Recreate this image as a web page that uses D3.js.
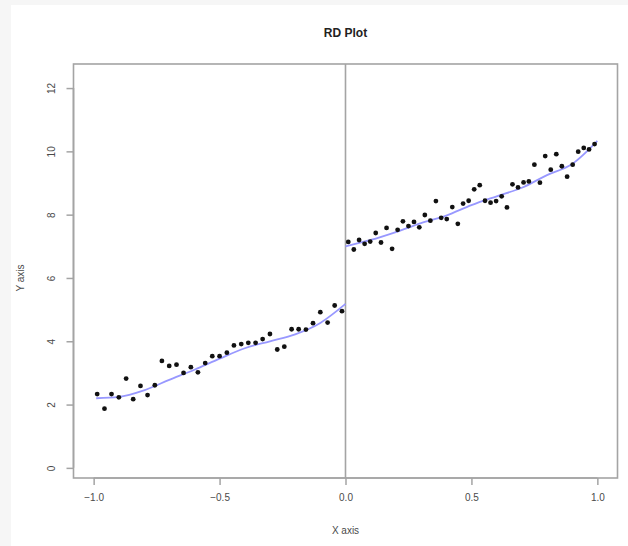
<!DOCTYPE html>
<html>
<head>
<meta charset="utf-8">
<script src="https://cdn.jsdelivr.net/npm/d3@7"></script>
<style>
  html, body { margin: 0; padding: 0; background: #f6f6f6; }
  svg { display: block; }
  text { font-family: "Liberation Sans", Arial, sans-serif; }
</style>
</head>
<body>
<div id="chart"></div>
<script>
/** --- DATA --- */

// binned means, left of the cutoff
const leftX = [-0.986, -0.957, -0.929, -0.900, -0.871, -0.843, -0.814, -0.786, -0.757, -0.729,
  -0.700, -0.671, -0.643, -0.614, -0.586, -0.557, -0.529, -0.500, -0.471, -0.443,
  -0.414, -0.386, -0.357, -0.329, -0.300, -0.271, -0.243, -0.214, -0.186, -0.157,
  -0.129, -0.100, -0.071, -0.043, -0.014];
const leftY = [2.33, 1.87, 2.33, 2.23, 2.82, 2.17, 2.59, 2.30, 2.61, 3.38,
  3.22, 3.26, 3.00, 3.18, 3.02, 3.31, 3.53, 3.53, 3.64, 3.87,
  3.91, 3.95, 3.95, 4.07, 4.23, 3.74, 3.83, 4.38, 4.38, 4.37,
  4.57, 4.92, 4.59, 5.13, 4.95];

// binned means, right of the cutoff
const rightX = [0.011, 0.033, 0.054, 0.076, 0.098, 0.120, 0.141, 0.163, 0.185, 0.207,
  0.228, 0.250, 0.272, 0.293, 0.315, 0.337, 0.359, 0.380, 0.402, 0.424,
  0.446, 0.467, 0.489, 0.511, 0.533, 0.554, 0.576, 0.598, 0.620, 0.641,
  0.663, 0.685, 0.707, 0.728, 0.750, 0.772, 0.793, 0.815, 0.837, 0.859,
  0.880, 0.902, 0.924, 0.946, 0.967, 0.989];
const rightY = [7.14, 6.90, 7.20, 7.08, 7.15, 7.42, 7.12, 7.58, 6.92, 7.52,
  7.79, 7.64, 7.77, 7.60, 7.99, 7.81, 8.43, 7.90, 7.86, 8.24,
  7.71, 8.35, 8.44, 8.80, 8.93, 8.44, 8.38, 8.43, 8.58, 8.23,
  8.96, 8.86, 9.02, 9.05, 9.58, 9.01, 9.85, 9.42, 9.91, 9.53,
  9.20, 9.58, 9.99, 10.11, 10.06, 10.23];

// fitted curves
const fitLeftX = [-0.99, -0.9, -0.8, -0.7, -0.6, -0.5, -0.4, -0.3, -0.2, -0.1, 0];
const fitLeftY = [2.2, 2.24, 2.45, 2.78, 3.1, 3.45, 3.78, 4.0, 4.22, 4.58, 5.18];
const fitRightX = [0, 0.1, 0.2, 0.3, 0.4, 0.5, 0.6, 0.7, 0.8, 0.9, 1.0];
const fitRightY = [7.0, 7.2, 7.45, 7.73, 7.97, 8.3, 8.58, 8.85, 9.25, 9.6, 10.33];

const xTicks = [-1.0, -0.5, 0.0, 0.5, 1.0];
const yTicks = [0, 2, 4, 6, 8, 10, 12];

/** --- DIMENSIONS --- */

const width = 628;
const height = 546;

const svg = d3.select('#chart')
  .append('svg')
  .attr('width', width)
  .attr('height', height);

svg.append('rect')
  .attr('x', 11)
  .attr('y', 5)
  .attr('width', width - 11)
  .attr('height', height - 5)
  .attr('fill', '#fff');

/** --- SCALES --- */

const xScale = d3.scaleLinear()
  .domain([-1.08, 1.08])
  .range([73.5, 617.5]);

const yScale = d3.scaleLinear()
  .domain([-0.32, 12.76])
  .range([478, 64]);

const axisColor = '#a4a4a4';
const textColor = '#4a4a4a';

// plot box
svg.append('rect')
  .attr('x', xScale(-1.08))
  .attr('y', yScale(12.76))
  .attr('width', xScale(1.08) - xScale(-1.08))
  .attr('height', yScale(-0.32) - yScale(12.76))
  .attr('fill', 'none')
  .attr('stroke', axisColor)
  .attr('stroke-width', 1.6);

// cutoff line
svg.append('line')
  .attr('x1', xScale(0))
  .attr('x2', xScale(0))
  .attr('y1', yScale(12.76))
  .attr('y2', yScale(-0.32))
  .attr('stroke', axisColor)
  .attr('stroke-width', 1.6);

/** --- AXES --- */

const xAxis = d3.axisBottom(xScale)
  .tickValues(xTicks)
  .tickFormat(d3.format('.1f'))
  .tickSize(7)
  .tickPadding(9);

const gx = svg.append('g')
  .attr('transform', `translate(0,${yScale(-0.32)})`)
  .call(xAxis);
gx.select('.domain')
  .attr('d', `M${xScale(-1.0)},0H${xScale(1.0)}`)
  .attr('stroke', axisColor)
  .attr('stroke-width', 1.6);
gx.selectAll('.tick line').attr('stroke', axisColor).attr('stroke-width', 1.5);
gx.selectAll('.tick text')
  .attr('fill', textColor)
  .style('font-size', '10px');

const yAxis = d3.axisLeft(yScale)
  .tickValues(yTicks)
  .tickSize(7)
  .tickPadding(0);

const gy = svg.append('g')
  .attr('transform', `translate(${xScale(-1.08)},0)`)
  .call(yAxis);
gy.select('.domain')
  .attr('d', `M0,${yScale(0)}V${yScale(12)}`)
  .attr('stroke', axisColor)
  .attr('stroke-width', 1.6);
gy.selectAll('.tick line').attr('stroke', axisColor).attr('stroke-width', 1.5);
gy.selectAll('.tick text')
  .attr('fill', textColor)
  .attr('text-anchor', 'middle')
  .attr('dy', null)
  .attr('x', null)
  .attr('transform', 'translate(-21,0) rotate(-90)')
  .attr('dominant-baseline', 'middle')
  .style('font-size', '10px');

/** --- LABELS --- */

svg.append('text')
  .attr('x', xScale(0))
  .attr('y', 37)
  .attr('text-anchor', 'middle')
  .attr('fill', '#222')
  .style('font-size', '12px')
  .style('font-weight', 'bold')
  .text('RD Plot');

svg.append('text')
  .attr('x', xScale(0))
  .attr('y', 534)
  .attr('text-anchor', 'middle')
  .attr('fill', textColor)
  .style('font-size', '10px')
  .text('X axis');

svg.append('text')
  .attr('transform', `translate(24,${yScale(6)}) rotate(-90)`)
  .attr('text-anchor', 'middle')
  .attr('fill', textColor)
  .style('font-size', '10px')
  .text('Y axis');

/** --- FIT CURVES --- */

const line = d3.line()
  .x(d => xScale(d[0]))
  .y(d => yScale(d[1]))
  .curve(d3.curveMonotoneX);

[[fitLeftX, fitLeftY], [fitRightX, fitRightY]].forEach(([xs, ys]) => {
  svg.append('path')
    .datum(d3.zip(xs, ys))
    .attr('fill', 'none')
    .attr('stroke', '#9898ff')
    .attr('stroke-width', 1.8)
    .attr('d', line);
});

/** --- POINTS --- */

const points = d3.zip(leftX, leftY).concat(d3.zip(rightX, rightY));

svg.append('g')
  .selectAll('circle')
  .data(points)
  .join('circle')
  .attr('cx', d => xScale(d[0]))
  .attr('cy', d => yScale(d[1]))
  .attr('r', 2.4)
  .attr('fill', '#111');
</script>
</body>
</html>
